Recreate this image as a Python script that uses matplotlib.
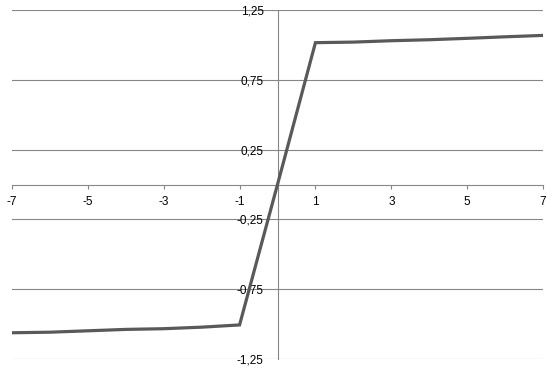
import matplotlib
matplotlib.use('Agg')
import matplotlib.pyplot as plt

# data
x_vals = [-7, -6, -5, -4, -3, -2, -1, 0, 1, 2, 3, 4, 5, 6, 7]
y_vals = [-1.062, -1.058, -1.048, -1.038, -1.033, -1.022, -1.006, 0.0,
          1.016, 1.020, 1.030, 1.037, 1.047, 1.058, 1.068]

x_ticks = [-7, -5, -3, -1, 1, 3, 5, 7]
x_labels = ['-7', '-5', '-3', '-1', '1', '3', '5', '7']
y_ticks = [-1.25, -0.75, -0.25, 0.25, 0.75, 1.25]
y_labels = ['-1,25', '-0,75', '-0,25', '0,25', '0,75', '1,25']

grid_col = '#868686'

plt.rcParams['font.family'] = ['Liberation Sans', 'DejaVu Sans']

fig = plt.figure(figsize=(5.54, 3.70), dpi=100)
ax = fig.add_axes([12 / 554, 11 / 370, 531 / 554, 349 / 370])

ax.plot(x_vals, y_vals, color='#595959', lw=2.3, solid_joinstyle='miter', zorder=3)

ax.set_xlim(-7, 7)
ax.set_ylim(-1.25, 1.25)

ax.spines['left'].set_position(('data', 0))
ax.spines['bottom'].set_position(('data', 0))
for pos in ['top', 'right']:
    ax.spines[pos].set_visible(False)
for pos in ['left', 'bottom']:
    ax.spines[pos].set_color(grid_col)
    ax.spines[pos].set_linewidth(0.8)

ax.set_xticks(x_ticks)
ax.set_xticklabels(x_labels)
ax.set_yticks(y_ticks)
ax.set_yticklabels(y_labels)

ax.tick_params(axis='x', direction='out', length=3, width=0.8, color=grid_col,
               pad=5.5, labelsize=8.5, labelcolor='black')
ax.tick_params(axis='y', length=0, pad=10, labelsize=8.5, labelcolor='black')

ax.yaxis.grid(True, color=grid_col, lw=0.8)
ax.set_axisbelow(True)

fig.savefig('out.png', dpi=100)
